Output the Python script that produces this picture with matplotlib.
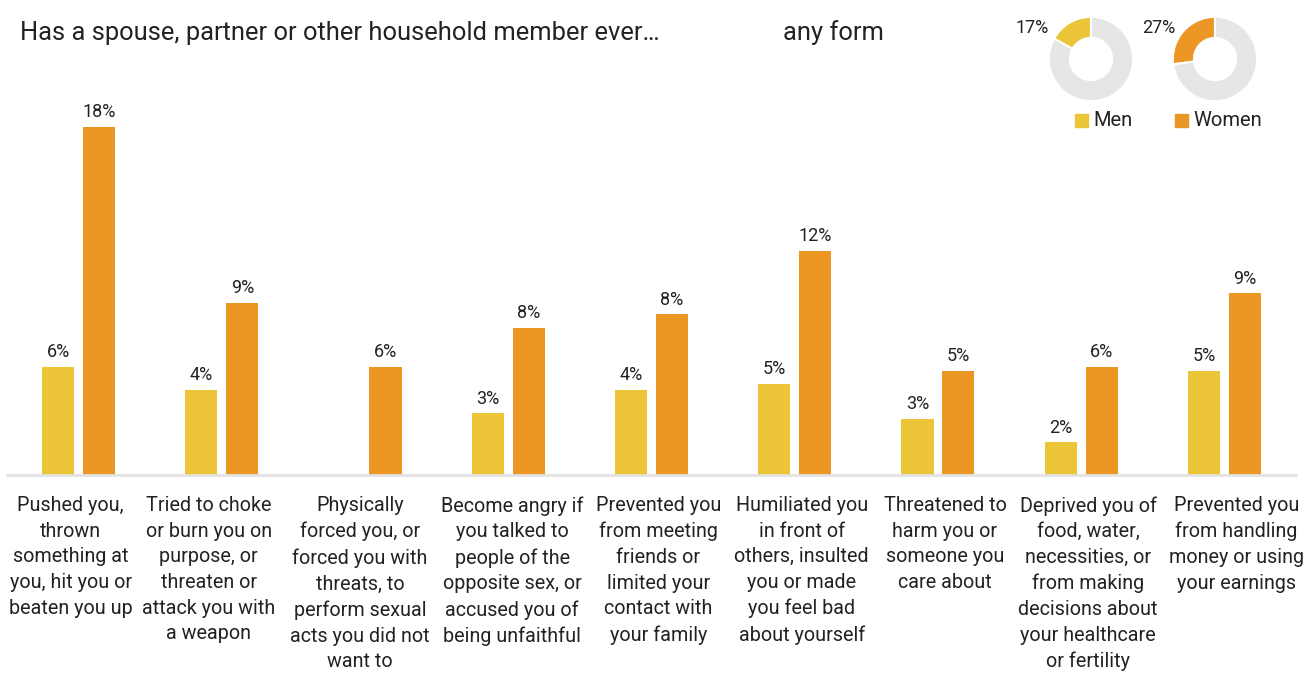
import numpy as np
import matplotlib
matplotlib.use('Agg')
import matplotlib.pyplot as plt
from matplotlib.patches import Rectangle
from matplotlib.transforms import offset_copy

plt.rcParams['font.family'] = ['Roboto', 'DejaVu Sans']

categories = [
    'Pushed you,\nthrown\nsomething at\nyou, hit you or\nbeaten you up',
    'Tried to choke\nor burn you on\npurpose, or\nthreaten or\nattack you with\na weapon',
    'Physically\nforced you, or\nforced you with\nthreats, to\nperform sexual\nacts you did not\nwant to',
    'Become angry if\nyou talked to\npeople of the\nopposite sex, or\naccused you of\nbeing unfaithful',
    'Prevented you\nfrom meeting\nfriends or\nlimited your\ncontact with\nyour family',
    'Humiliated you\nin front of\nothers, insulted\nyou or made\nyou feel bad\nabout yourself',
    'Threatened to\nharm you or\nsomeone you\ncare about',
    'Deprived you of\nfood, water,\nnecessities, or\nfrom making\ndecisions about\nyour healthcare\nor fertility',
    'Prevented you\nfrom handling\nmoney or using\nyour earnings',
]
men = [5.6, 4.4, np.nan, 3.2, 4.4, 4.7, 2.9, 1.7, 5.4]
women = [18.0, 8.9, 5.6, 7.6, 8.3, 11.6, 5.4, 5.6, 9.4]
any_form = {'Men': 17, 'Women': 27}

c_men = '#ECC437'
c_women = '#EC9626'
c_gray = '#E6E6E6'
c_text = '#222222'

W, H = 1303, 675
fig = plt.figure(figsize=(W / 100, H / 100), dpi=100)

def fx(px):
    return px / W

def fy(py):
    return 1 - py / H

# main bars
ax = fig.add_axes([fx(7), fy(475), fx(1289), (475 - 88) / H])
x = np.arange(len(categories))
off, bw = 0.143, 0.224
bm = ax.bar(x - off, men, bw, color=c_men)
bwn = ax.bar(x + off, women, bw, color=c_women)
for bars, vals in ((bm, men), (bwn, women)):
    for b, v in zip(bars, vals):
        if np.isnan(v):
            continue
        ax.annotate(f'{v:.0f}%', (b.get_x() + b.get_width() / 2, v),
                    xytext=(0, 4), textcoords='offset points',
                    ha='center', va='bottom', fontsize=13, color=c_text)
ax.set_xlim(-0.5, 8.5)
ax.set_ylim(0, 20)
ax.set_xticks([])
ax.set_yticks([])
for s in ('top', 'right', 'left'):
    ax.spines[s].set_visible(False)
ax.spines['bottom'].set_color('#E3E3E3')
ax.spines['bottom'].set_linewidth(2)

# category labels (wrapped text boxes sit a bit off the bar centres)
label_shift = [-8, -13, -5, 4, 7, 7, 7, 7, 12]
base = ax.get_xaxis_transform()
for i, (lab, dx) in enumerate(zip(categories, label_shift)):
    tr = offset_copy(base, fig=fig, x=dx, y=-21, units='dots')
    ax.text(i, 0, lab, transform=tr, ha='center', va='top', fontsize=14.2,
            linespacing=1.445, color=c_text, clip_on=False)

# title
fig.text(fx(20), fy(33), 'Has a spouse, partner or other household member ever\u2026',
         fontsize=18.4, va='center', ha='left', color=c_text)
fig.text(fx(783), fy(33), 'any form', fontsize=18.4, va='center', ha='left',
         color=c_text)

# donuts
r = 43
for (name, val), cx, col, lx in zip(any_form.items(), (1091, 1215), (c_men, c_women), (1032, 1159)):
    pax = fig.add_axes([fx(cx - r), fy(59 + r), 2 * r / W, 2 * r / H])
    pax.pie([val, 100 - val], colors=[col, c_gray], startangle=90, counterclock=True,
            wedgeprops=dict(width=0.5, edgecolor='white', linewidth=1.5))
    pax.set_xlim(-1.02, 1.02)
    pax.set_ylim(-1.02, 1.02)
    pax.set_aspect('equal')
    fig.text(fx(lx), fy(28), f'{val}%', fontsize=13, ha='center', va='center',
             color=c_text)

# legend
for name, col, sx in (('Men', c_men, 1075), ('Women', c_women, 1175)):
    fig.add_artist(Rectangle((fx(sx), fy(127)), 13 / W, 13 / H, color=col,
                             transform=fig.transFigure))
    fig.text(fx(sx + 18), fy(121), name, fontsize=14.5, ha='left', va='center',
             color=c_text)

fig.savefig('out.png', dpi=100)
